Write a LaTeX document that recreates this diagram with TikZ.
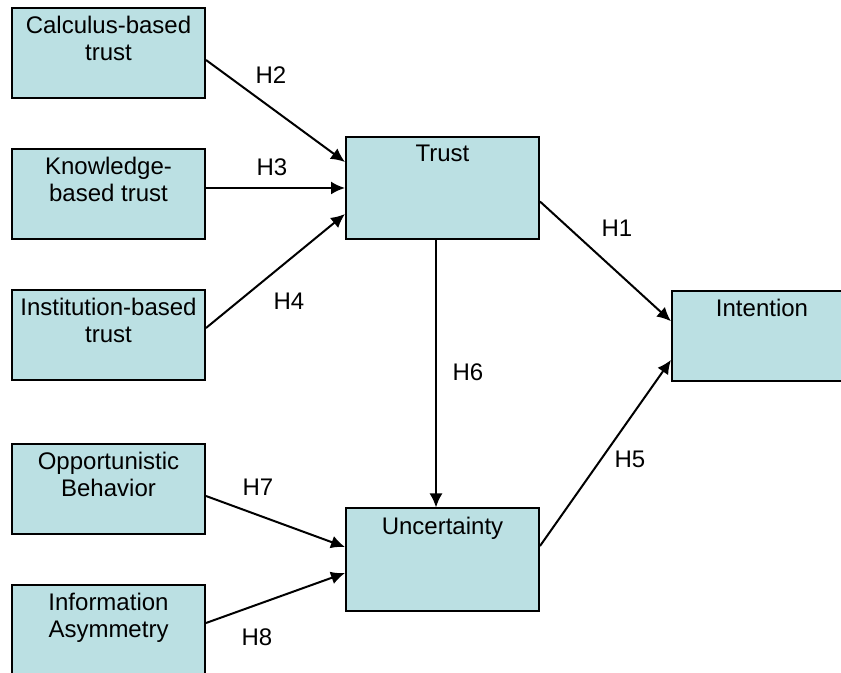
\documentclass[tikz,border=0pt]{standalone}
\usepackage{fontspec}
\setmainfont{Liberation Sans}
\usepackage{xcolor}
\usetikzlibrary{arrows.meta, positioning, calc}

\definecolor{boxfill}{RGB}{187,224,227}

\begin{document}
\begin{tikzpicture}[x=0.5pt, y=-0.5pt]
    \tikzstyle{factor} = [rectangle, draw=black, line width=1pt, fill=boxfill, minimum width=96.5pt, minimum height=45pt]
    \tikzstyle{construct} = [factor, minimum height=51pt]
    \tikzstyle{boxtext} = [anchor=north, align=center, inner sep=4.5pt, font=\fontsize{12}{13.5}\selectfont]
    \tikzstyle{arrow} = [line width=1pt, -{Latex[length=7pt,width=6.5pt]}]
    \tikzstyle{hyp} = [font=\fontsize{12}{13.5}\selectfont]

    \useasboundingbox (0,0) rectangle (841,673);

    % left column
    \node[factor, label={[boxtext]north:{Calculus-based\\trust}}] (calc) at (108.5,53) {};
    \node[factor, label={[boxtext]north:{Knowledge-\\based trust}}] (know) at (108.5,194) {};
    \node[factor, label={[boxtext]north:{Institution-based\\trust}}] (inst) at (108.5,335) {};
    \node[factor, label={[boxtext]north:{Opportunistic\\Behavior}}] (opp) at (108.5,489) {};
    \node[factor, label={[boxtext]north:{Information\\Asymmetry}}] (info) at (108.5,630) {};

    % middle and right
    \node[construct, label={[boxtext]north:Trust}] (trust) at (442.5,188) {};
    \node[construct, label={[boxtext]north:Uncertainty}] (unc) at (442.5,559.5) {};
    \node[factor, minimum width=90pt, label={[boxtext]north:Intention}] (intent) at (762,336) {};

    % hypotheses
    \draw[arrow] ([yshift=-3.5pt]calc.east) -- ($(trust.north west)!0.25!(trust.south west)$);
    \draw[arrow] (know.east |- trust.west) -- (trust.west);
    \draw[arrow] ([yshift=3.5pt]inst.east) -- ($(trust.north west)!0.75!(trust.south west)$);
    \draw[arrow] ($(trust.north east)!0.63!(trust.south east)$) -- ($(intent.north west)!0.34!(intent.south west)$);
    \draw[arrow] ([xshift=-3.25pt]trust.south) -- ([xshift=-3.25pt]unc.north);
    \draw[arrow] ($(unc.north east)!0.37!(unc.south east)$) -- ($(intent.north west)!0.76!(intent.south west)$);
    \draw[arrow] ([yshift=-3.5pt]opp.east) -- ($(unc.north west)!0.38!(unc.south west)$);
    \draw[arrow] ([yshift=3.5pt]info.east) -- ($(unc.north west)!0.63!(unc.south west)$);

    \node[hyp] (h1) at (617,228) {H1};
    \node[hyp] (h2) at (271,75) {H2};
    \node[hyp] (h3) at (272,167) {H3};
    \node[hyp] (h4) at (289,301) {H4};
    \node[hyp] (h5) at (630,459) {H5};
    \node[hyp] (h6) at (468,372) {H6};
    \node[hyp] (h7) at (258,487) {H7};
    \node[hyp] (h8) at (257,637) {H8};
\end{tikzpicture}
\end{document}
